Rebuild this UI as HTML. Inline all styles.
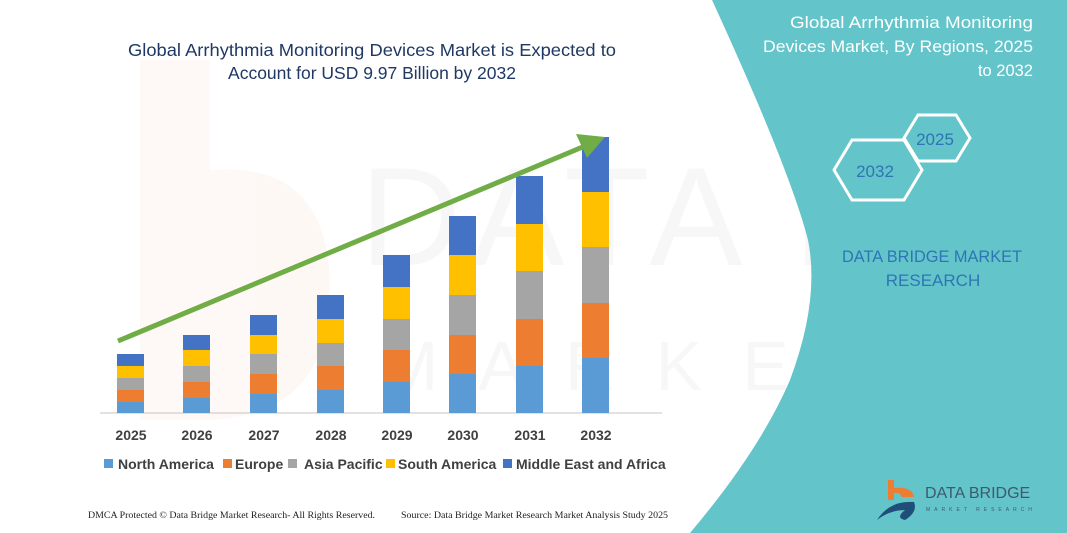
<!DOCTYPE html>
<html><head><meta charset="utf-8"><style>
html,body{margin:0;padding:0;background:#fff;}
svg{display:block;font-family:"Liberation Sans",sans-serif;}
</style></head><body>
<svg width="1067" height="533" viewBox="0 0 1067 533" xmlns="http://www.w3.org/2000/svg">
<rect width="1067" height="533" fill="#fff"/>
<!-- faint watermark -->
<g opacity="0.045">
<path d="M140 60 L210 60 L210 170 Q330 160 330 290 Q330 420 200 420 L140 420 Z" fill="#ED7D31"/>
<text x="360" y="265" font-size="140" fill="#555" letter-spacing="10">DATA BRIDGE</text>
<text x="380" y="390" font-size="70" fill="#555" letter-spacing="40">MARKET RESEARCH</text>
</g>
<!-- teal panel -->
<path d="M712 0 L1067 0 L1067 533 L690 533 Q760 450 790 380 Q820 300 808 240 Q790 170 712 0 Z" fill="#63C4C9"/>
<!-- title -->
<text x="372" y="56" font-size="17.5" fill="#1F3864" text-anchor="middle" textLength="488" lengthAdjust="spacingAndGlyphs">Global Arrhythmia Monitoring Devices Market is Expected to</text>
<text x="372" y="79" font-size="17.5" fill="#1F3864" text-anchor="middle">Account for USD 9.97 Billion by 2032</text>
<!-- axis -->
<line x1="100" y1="413" x2="662" y2="413" stroke="#d0d0d0" stroke-width="1.2"/>
<g id="bars">
<rect x="117" y="402" width="27" height="11" fill="#5B9BD5"/><rect x="117" y="390" width="27" height="12" fill="#ED7D31"/><rect x="117" y="378" width="27" height="12" fill="#A5A5A5"/><rect x="117" y="366" width="27" height="12" fill="#FFC000"/><rect x="117" y="354" width="27" height="12" fill="#4472C4"/>
<rect x="183" y="398" width="27" height="15" fill="#5B9BD5"/><rect x="183" y="382" width="27" height="16" fill="#ED7D31"/><rect x="183" y="366" width="27" height="16" fill="#A5A5A5"/><rect x="183" y="350" width="27" height="16" fill="#FFC000"/><rect x="183" y="335" width="27" height="15" fill="#4472C4"/>
<rect x="250" y="394" width="27" height="19" fill="#5B9BD5"/><rect x="250" y="374" width="27" height="20" fill="#ED7D31"/><rect x="250" y="354" width="27" height="20" fill="#A5A5A5"/><rect x="250" y="335" width="27" height="19" fill="#FFC000"/><rect x="250" y="315" width="27" height="20" fill="#4472C4"/>
<rect x="317" y="390" width="27" height="23" fill="#5B9BD5"/><rect x="317" y="366" width="27" height="24" fill="#ED7D31"/><rect x="317" y="343" width="27" height="23" fill="#A5A5A5"/><rect x="317" y="319" width="27" height="24" fill="#FFC000"/><rect x="317" y="295" width="27" height="24" fill="#4472C4"/>
<rect x="383" y="382" width="27" height="31" fill="#5B9BD5"/><rect x="383" y="350" width="27" height="32" fill="#ED7D31"/><rect x="383" y="319" width="27" height="31" fill="#A5A5A5"/><rect x="383" y="287" width="27" height="32" fill="#FFC000"/><rect x="383" y="255" width="27" height="32" fill="#4472C4"/>
<rect x="449" y="374" width="27" height="39" fill="#5B9BD5"/><rect x="449" y="335" width="27" height="39" fill="#ED7D31"/><rect x="449" y="295" width="27" height="40" fill="#A5A5A5"/><rect x="449" y="255" width="27" height="40" fill="#FFC000"/><rect x="449" y="216" width="27" height="39" fill="#4472C4"/>
<rect x="516" y="366" width="27" height="47" fill="#5B9BD5"/><rect x="516" y="319" width="27" height="47" fill="#ED7D31"/><rect x="516" y="271" width="27" height="48" fill="#A5A5A5"/><rect x="516" y="224" width="27" height="47" fill="#FFC000"/><rect x="516" y="176" width="27" height="48" fill="#4472C4"/>
<rect x="582" y="358" width="27" height="55" fill="#5B9BD5"/><rect x="582" y="303" width="27" height="55" fill="#ED7D31"/><rect x="582" y="247" width="27" height="56" fill="#A5A5A5"/><rect x="582" y="192" width="27" height="55" fill="#FFC000"/><rect x="582" y="137" width="27" height="55" fill="#4472C4"/>
</g>
<!-- arrow -->
<line x1="118" y1="341" x2="585" y2="146" stroke="#70AD47" stroke-width="5"/>
<polygon points="605,137 576,134 587,158" fill="#70AD47"/>
<!-- year labels -->
<g font-size="14" font-weight="bold" fill="#404040" text-anchor="middle">
<text x="131" y="440">2025</text><text x="197" y="440">2026</text><text x="264" y="440">2027</text><text x="331" y="440">2028</text>
<text x="397" y="440">2029</text><text x="463" y="440">2030</text><text x="530" y="440">2031</text><text x="596" y="440">2032</text>
</g>
<!-- legend -->
<g font-size="14" font-weight="bold" fill="#404040">
<rect x="104" y="459" width="9" height="9" fill="#5B9BD5"/><text x="118" y="469">North America</text>
<rect x="223" y="459" width="9" height="9" fill="#ED7D31"/><text x="235" y="469">Europe</text>
<rect x="288" y="459" width="9" height="9" fill="#A5A5A5"/><text x="304" y="469">Asia Pacific</text>
<rect x="386" y="459" width="9" height="9" fill="#FFC000"/><text x="398" y="469">South America</text>
<rect x="503" y="459" width="9" height="9" fill="#4472C4"/><text x="516" y="469">Middle East and Africa</text>
</g>
<!-- footer -->
<g font-family="Liberation Serif,serif" font-size="9.5" fill="#222">
<text x="88" y="518" textLength="287" lengthAdjust="spacingAndGlyphs">DMCA Protected © Data Bridge Market Research-  All Rights Reserved.</text>
<text x="401" y="518" textLength="267" lengthAdjust="spacingAndGlyphs">Source:  Data Bridge Market Research  Market Analysis Study 2025</text>
</g>
<!-- right panel text -->
<g font-size="16.5" fill="#fff" text-anchor="end">
<text x="1033" y="28" textLength="243" lengthAdjust="spacingAndGlyphs">Global Arrhythmia Monitoring</text>
<text x="1033" y="52" textLength="270" lengthAdjust="spacingAndGlyphs">Devices Market, By Regions, 2025</text>
<text x="1033" y="76">to 2032</text>
</g>
<!-- hexagons -->
<polygon points="904,138 918,115 956,115 970,138 956,161 918,161" fill="none" stroke="#fff" stroke-width="3"/>
<polygon points="834,170 852,140 904,140 922,170 904,200 852,200" fill="none" stroke="#fff" stroke-width="3"/>
<text x="935" y="145" font-size="17" fill="#2E75B6" text-anchor="middle">2025</text>
<text x="875" y="177" font-size="17" fill="#2E75B6" text-anchor="middle">2032</text>
<g font-size="17" fill="#2E75B6" text-anchor="middle">
<text x="932" y="262" textLength="180" lengthAdjust="spacingAndGlyphs">DATA BRIDGE MARKET</text>
<text x="933" y="286">RESEARCH</text>
</g>
<!-- logo -->
<path d="M888 480 L894 480 L894 488 Q912 486 914 497 L902 497 Q900 492 894 493 L894 500 L888 500 Z" fill="#ED7D31"/>
<path d="M877 520 Q890 500 914 502 Q918 512 905 520 Q895 518 905 510 Q890 510 877 520 Z" fill="#1F4E79"/>
<text x="925" y="498" font-size="16" fill="#3d5a6e">DATA BRIDGE</text>
<text x="926" y="511" font-size="5" fill="#3d5a6e" letter-spacing="4">MARKET RESEARCH</text>
</svg>
</body></html>
